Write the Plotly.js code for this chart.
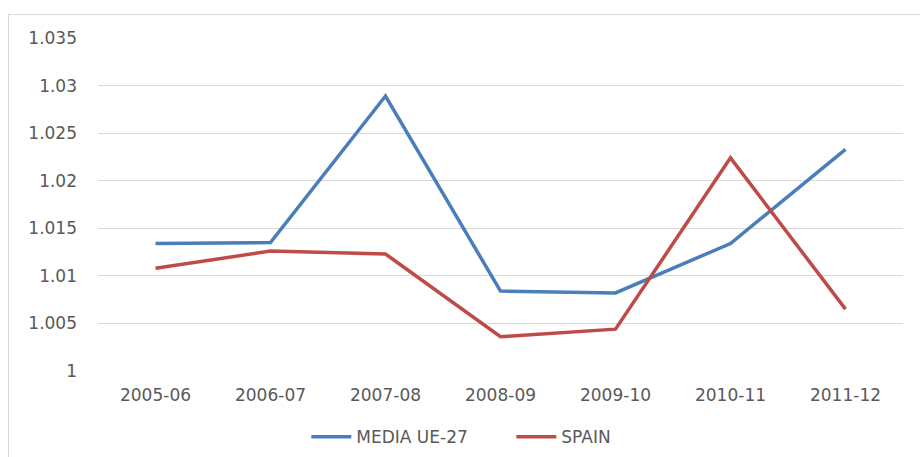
<!DOCTYPE html>
<html>
<head>
<meta charset="utf-8">
<script src="https://cdn.plot.ly/plotly-3.0.1.min.js"></script>
<style>
  html, body { margin: 0; padding: 0; background: #fff; overflow: hidden; }
  #chart {
    position: absolute; left: 8px; top: 14px;
    width: 912px; height: 443px;
    border: 1px solid #d9d9d9;
  }
</style>
</head>
<body>
<div id="chart"></div>
<script>
const periods = ['2005-06', '2006-07', '2007-08', '2008-09', '2009-10', '2010-11', '2011-12'];
const media_ue27 = [1.0134, 1.0135, 1.0289, 1.0084, 1.0082, 1.0134, 1.0233];
const spain = [1.0108, 1.0126, 1.0123, 1.0036, 1.0044, 1.0224, 1.0065];
const y_ticks = [1, 1.005, 1.01, 1.015, 1.02, 1.025, 1.03, 1.035];
const y_labels = ['1', '1.005', '1.01', '1.015', '1.02', '1.025', '1.03', '1.035'];

const font_family = '"DejaVu Sans", sans-serif';

const chart_data = [
    {
        x: periods,
        y: media_ue27,
        name: 'MEDIA UE-27',
        mode: 'lines',
        line: { color: '#4a7ebb', width: 3.5 }
    },
    {
        x: periods,
        y: spain,
        name: 'SPAIN',
        mode: 'lines',
        line: { color: '#be4b48', width: 3.5 }
    }
];

const chart_layout = {
    width: 912,
    height: 443,
    margin: { l: 89, r: 18, t: 23, b: 87 },
    paper_bgcolor: '#fff',
    plot_bgcolor: '#fff',
    font: { family: font_family, size: 17, color: '#595959' },
    showlegend: true,
    legend: {
        orientation: 'h',
        xref: 'container', yref: 'container',
        x: 0.326, xanchor: 'left',
        y: 0.047, yanchor: 'middle',
        font: { family: font_family, size: 17, color: '#595959' },
        itemwidth: 40,
        entrywidth: 150
    },
    xaxis: {
        type: 'category',
        range: [-0.5, 6.5],
        showgrid: false,
        zeroline: false,
        showline: false,
        ticks: '',
        automargin: false,
        ticklabelstandoff: 12
    },
    yaxis: {
        range: [1, 1.035],
        tickvals: y_ticks,
        ticktext: y_labels,
        showgrid: true,
        gridcolor: '#d9d9d9',
        gridwidth: 1,
        zeroline: false,
        showline: false,
        ticks: '',
        automargin: false,
        ticklabelstandoff: 20
    }
};

Plotly.newPlot('chart', chart_data, chart_layout, { displayModeBar: false, staticPlot: true });
</script>
</body>
</html>
